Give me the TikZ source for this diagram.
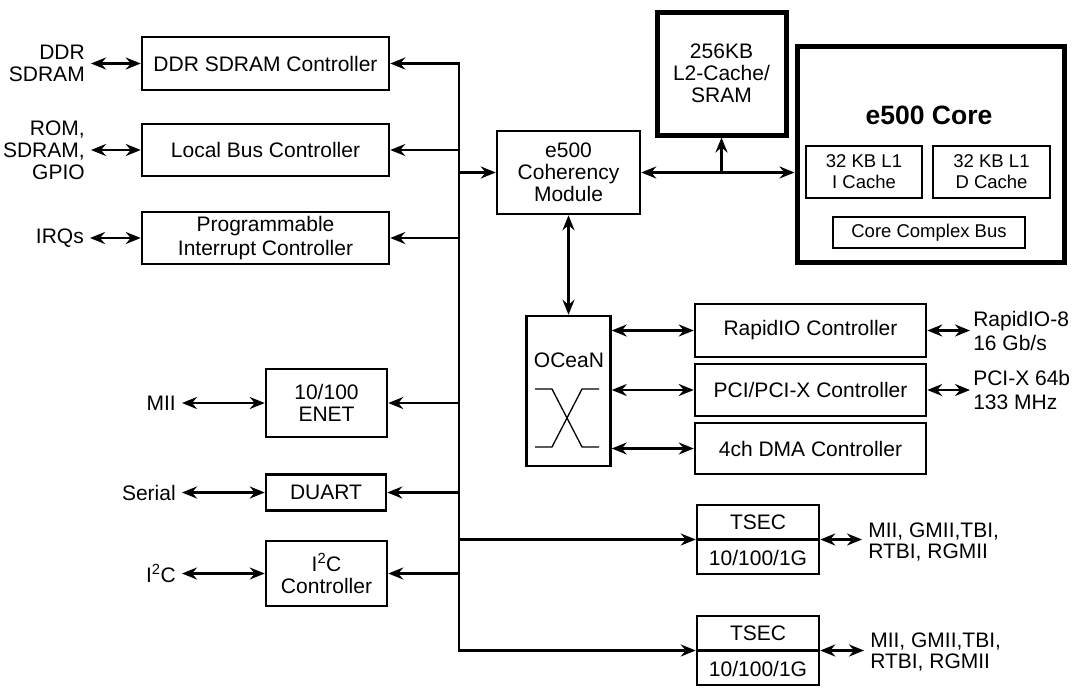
\documentclass[tikz,border=0pt]{standalone}
\usepackage{fontspec}
\setmainfont{Liberation Sans}
\usetikzlibrary{arrows.meta}
\newcommand\fsA{\fontsize{21}{22}\selectfont}
\newcommand\fsB{\fontsize{18.5}{21}\selectfont}
\newcommand\fsT{\bfseries\fontsize{26.5}{28}\selectfont}
\begin{document}
\begin{tikzpicture}[x=1pt,y=-1pt,line width=2.5pt,
  >={Stealth[length=15pt,width=12pt,inset=5pt]},
  blk/.style={draw, line width=2.5pt, inner sep=0pt, align=center, font=\fsA},
  thk/.style={blk, line width=5pt},
  sub/.style={draw, line width=2pt, inner sep=0pt, align=center, font=\fsB},
  lbl/.style={inner xsep=5pt, inner ysep=0pt, font=\fsA},
  txt/.style={inner sep=0pt, font=\fsA, align=center}]
\useasboundingbox (0,0) rectangle (1073,691);
% left column boxes
\node[blk, minimum width=247pt, minimum height=53pt] (ddr) at (265.5,63.5) {DDR SDRAM Controller};
\node[blk, minimum width=247pt, minimum height=52pt] (lbc) at (265.5,150) {Local Bus Controller};
\node[blk, minimum width=247pt, minimum height=52pt, font=\fontsize{21}{24}\selectfont] (pic) at (265.5,238) {Programmable\\Interrupt Controller};
\node[blk, minimum width=121pt, minimum height=68pt] (enet) at (326.5,403) {10/100\\ENET};
\node[blk, minimum width=120pt, minimum height=36pt] (duart) at (326,492.5) {DUART};
\node[blk, minimum width=121pt, minimum height=65pt] (iic) at (326.5,573.5) {I\textsuperscript{2}C\\Controller};
% left labels
\node[lbl, anchor=east, align=right] (ddrL) at (91,63.5) {DDR\\SDRAM};
\node[lbl, anchor=east, align=right] (lbcL) at (91,150) {ROM,\\SDRAM,\\GPIO};
\node[lbl, anchor=east] (picL) at (90,238) {IRQs};
\node[lbl, anchor=east] (enetL) at (182,403) {MII};
\node[lbl, anchor=east] (duartL) at (182,492.5) {Serial};
\node[lbl, anchor=east] (iicL) at (182,573.5) {I\textsuperscript{2}C};
% centre
\node[blk, minimum width=143pt, minimum height=83pt] (coh) at (568.5,172.5) {e500\\Coherency\\Module};
\node[thk, minimum width=129pt, minimum height=123pt] (l2) at (721.5,73.5) {256KB\\L2-Cache/\\SRAM};
\node[thk, minimum width=267pt, minimum height=216pt] (core) at (930.5,154) {};
\node[txt, font=\fsT] (coreT) at (929,115) {e500 Core};
\node[sub, minimum width=116pt, minimum height=52pt] (icache) at (864,172) {32 KB L1\\I Cache};
\node[sub, minimum width=117pt, minimum height=52pt] (dcache) at (991.5,172) {32 KB L1\\D Cache};
\node[sub, minimum width=192pt, minimum height=31pt] (ccb) at (929,232.5) {Core Complex Bus};
% OCeaN
\node[blk, minimum width=84pt, minimum height=150pt] (ocean) at (568.5,391) {};
\node[txt] (oceanT) at (569,360) {OCeaN};
\draw[line width=1.3pt] (535,389) -- (552,389) -- (582,447) -- (599,447);
\draw[line width=1.3pt] (599,389) -- (582,389) -- (552,447) -- (535,447);
% controllers
\node[blk, minimum width=231pt, minimum height=53pt] (rio) at (810.5,330.5) {RapidIO Controller};
\node[blk, minimum width=231pt, minimum height=52pt] (pci) at (810.5,390) {PCI/PCI-X Controller};
\node[blk, minimum width=231pt, minimum height=51pt] (dma) at (810.5,448.5) {4ch DMA Controller};
\node[lbl, inner xsep=2pt, anchor=west, align=left, font=\fontsize{21}{24}\selectfont] (rioL) at (970,330.5) {RapidIO-8\\16 Gb/s};
\node[lbl, inner xsep=2pt, anchor=west, align=left, font=\fontsize{21}{24}\selectfont] (pciL) at (970,390) {PCI-X 64b\\133 MHz};
% TSECs
\node[blk, minimum width=122pt, minimum height=69pt] (ts1) at (758,539.5) {};
\draw (ts1.west) -- (ts1.east);
\node[txt] (ts1a) at (758,522) {TSEC};
\node[txt] (ts1b) at (758,558) {10/100/1G};
\node[lbl, anchor=west, align=left, font=\fontsize{21}{21}\selectfont] (ts1L) at (862,542) {MII, GMII,TBI,\\RTBI, RGMII};
\node[blk, minimum width=122pt, minimum height=69pt] (ts2) at (758,650.5) {};
\draw (ts2.west) -- (ts2.east);
\node[txt] (ts2a) at (758,633) {TSEC};
\node[txt] (ts2b) at (758,669) {10/100/1G};
\node[lbl, anchor=west, align=left, font=\fontsize{21}{21}\selectfont] (ts2L) at (864,652) {MII, GMII,TBI,\\RTBI, RGMII};
% bus
\coordinate (bt) at (459,63.5);
\coordinate (bb) at (459,650.5);
\draw[<->] (ddr.east) -- (bt) -- (bb) -- (ts2.west);
\draw[->] (lbc.east -| bt) -- (lbc.east);
\draw[->] (pic.east -| bt) -- (pic.east);
\draw[->] (enet.east -| bt) -- (enet.east);
\draw[->] (duart.east -| bt) -- (duart.east);
\draw[->] (iic.east -| bt) -- (iic.east);
\draw[->] (coh.west -| bt) -- (coh.west);
\draw[->] (ts1.west -| bt) -- (ts1.west);
% external arrows left
\draw[<->] (ddrL.east) -- (ddr.west);
\draw[<->] (lbcL.east) -- (lbc.west);
\draw[<->] (picL.east) -- (pic.west);
\draw[<->] (enetL.east) -- (enet.west);
\draw[<->] (duartL.east) -- (duart.west);
\draw[<->] (iicL.east) -- (iic.west);
% centre arrows
\coordinate (cr) at (coh.east -| core.west);
\coordinate (br) at (coh.east -| l2.south);
\draw[<->] (coh.east) -- (cr);
\draw[->] (br) -- (l2.south);
\draw[<->] (coh.south) -- (ocean.north);
\draw[<->] (ocean.east |- rio.west) -- (rio.west);
\draw[<->] (ocean.east |- pci.west) -- (pci.west);
\draw[<->] (ocean.east |- dma.west) -- (dma.west);
\draw[<->] (rio.east) -- (rioL.west);
\draw[<->] (pci.east) -- (pciL.west);
\draw[<->] (ts1.east) -- (ts1.east -| ts1L.west);
\draw[<->] (ts2.east) -- (ts2.east -| ts2L.west);
\end{tikzpicture}
\end{document}
